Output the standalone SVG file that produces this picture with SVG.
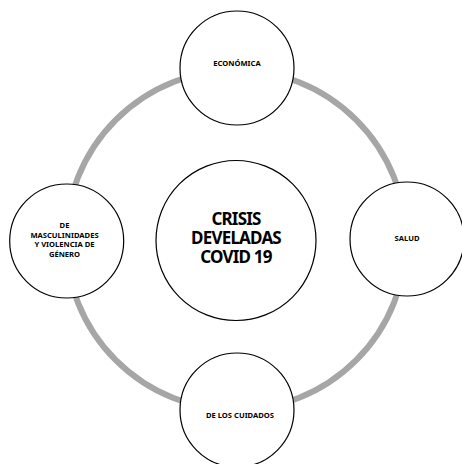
<svg xmlns="http://www.w3.org/2000/svg" width="462" height="464" viewBox="0 0 462 464">
<style>
.node{fill:#fff;stroke:#000;stroke-width:1.2}
.ring{fill:none;stroke:#a6a6a6;stroke-width:6}
text{font-family:"Noto Sans","DejaVu Sans",sans-serif;font-weight:bold;fill:#000;text-anchor:middle}
.s{font-size:7.6px}
.b{font-size:17px;letter-spacing:-0.8px}
</style>
<rect width="462" height="464" fill="#fff"/>
<g id="connectors">
<circle class="ring" cx="236" cy="240" r="170"/>
</g>
<g id="center">
<circle class="node" cx="236" cy="240.5" r="80"/>
<text class="b" x="236" y="225">CRISIS</text>
<text class="b" x="236" y="244">DEVELADAS</text>
<text class="b" x="236" y="263">COVID 19</text>
</g>
<g id="economica">
<circle class="node" cx="237" cy="68" r="57"/>
<text class="s" x="237" y="65.5">ECONÓMICA</text>
</g>
<g id="salud">
<circle class="node" cx="407" cy="239" r="57"/>
<text class="s" x="407" y="241">SALUD</text>
</g>
<g id="cuidados">
<circle class="node" cx="237" cy="410" r="57"/>
<text class="s" x="240" y="418">DE LOS CUIDADOS</text>
</g>
<g id="masculinidades">
<circle class="node" cx="66.7" cy="241" r="57"/>
<text class="s" x="64.5" y="228.3">DE</text>
<text class="s" x="64.5" y="237.7">MASCULINIDADES</text>
<text class="s" x="64.5" y="247.2">Y VIOLENCIA DE</text>
<text class="s" x="64.5" y="256.7">GÉNERO</text>
</g>
</svg>
